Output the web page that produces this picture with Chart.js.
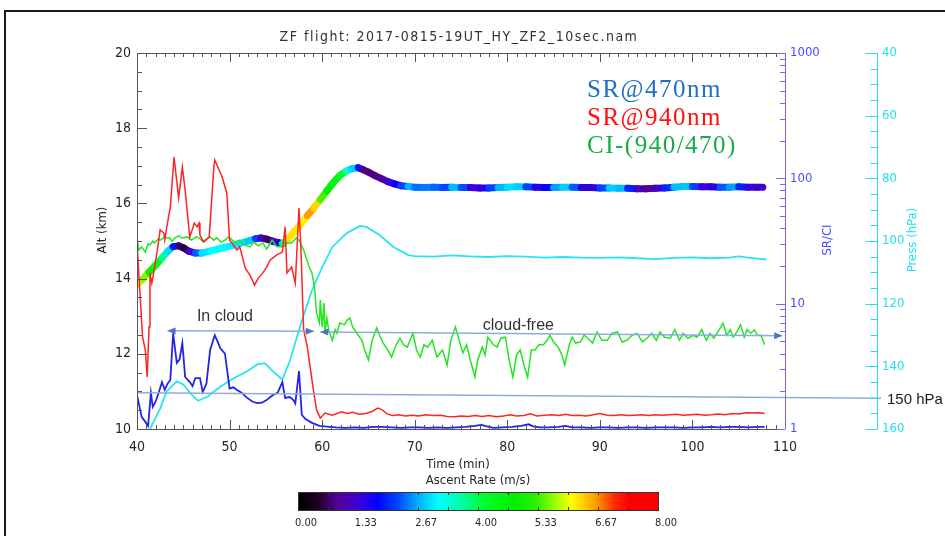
<!DOCTYPE html>
<html>
<head>
<meta charset="utf-8">
<script src="https://cdn.jsdelivr.net/npm/chart.js@4.4.0/dist/chart.umd.min.js"></script>
<style>
  html, body { margin: 0; padding: 0; background: #fff; }
  canvas { display: block; }
</style>
</head>
<body>
<canvas id="flight" width="945" height="536"></canvas>
<script>
// ---- flight record: altitude (km) and ascent rate (m/s) against time (min) ----
const altTime = [40.0, 40.6, 41.3, 42.0, 42.7, 43.3, 43.9, 44.5, 45.0, 45.6, 46.3, 47.0, 48.0, 49.0, 50.0,
  51.0, 52.0, 52.8, 53.4, 54.0, 54.6, 55.2, 55.7, 56.3, 57.0, 57.7, 58.4, 59.1, 59.8, 60.5, 61.2, 61.9,
  62.6, 63.2, 63.9, 64.4, 65.0, 65.7, 66.4, 67.1, 67.8, 68.5, 69.3,
  70, 71, 72, 73, 74, 75, 76, 77, 78, 79, 80, 81, 82, 83, 84, 85, 86, 87, 88, 89,
  90, 91, 92, 93, 94, 95, 96, 97, 98, 99, 100, 101, 102, 103, 104, 105, 106, 107, 107.6];
const altKm = [13.83, 13.98, 14.17, 14.35, 14.55, 14.72, 14.85, 14.87, 14.82, 14.73, 14.68, 14.68, 14.74, 14.80, 14.86,
  14.93, 15.00, 15.06, 15.08, 15.05, 15.00, 14.96, 14.93, 15.05, 15.25, 15.45, 15.67, 15.88, 16.10, 16.33, 16.55, 16.74,
  16.86, 16.92, 16.95, 16.90, 16.83, 16.74, 16.66, 16.58, 16.52, 16.47, 16.45,
  16.43, 16.42, 16.43, 16.42, 16.43, 16.42, 16.42, 16.41, 16.41, 16.42, 16.43, 16.44, 16.44, 16.43, 16.42, 16.42, 16.43, 16.43, 16.42, 16.42,
  16.41, 16.41, 16.40, 16.40, 16.39, 16.39, 16.40, 16.41, 16.43, 16.45, 16.45, 16.44, 16.44, 16.43, 16.43, 16.44, 16.43, 16.43, 16.43];
const ascentRate = [6.6, 5.9, 5.3, 4.6, 4.1, 3.2, 2.6, 1.2, 0.2, 0.8, 1.8, 2.8, 3.1, 3.2, 3.1,
  3.0, 2.9, 2.7, 1.6, 0.5, 0.9, 1.4, 1.8, 6.0, 6.5, 5.9, 6.4, 6.8, 5.8, 5.0, 4.5, 4.6,
  3.8, 3.0, 2.7, 1.1, 0.6, 1.0, 0.7, 1.2, 1.5, 1.8, 2.6,
  2.8, 2.0, 2.9, 1.8, 2.6, 2.9, 1.6, 1.1, 1.8, 2.5, 2.9, 3.0, 2.7, 1.7, 1.3, 2.3, 2.9, 2.8, 1.8, 1.1,
  1.7, 2.7, 3.0, 2.5, 1.5, 0.8, 1.0, 1.4, 2.6, 2.9, 2.7, 1.6, 1.2, 1.8, 2.8, 2.4, 1.6, 1.1, 1.5];

// ---- scattering ratio at 470 nm ----
const sr470Time = [40.0, 40.5, 40.9, 41.2, 41.5, 41.7, 42.0, 42.3, 42.7, 43.0, 43.3, 43.6, 43.9, 44.3,
  44.6, 44.9, 45.2, 45.7, 46.0, 46.3, 46.8, 47.1, 47.5, 47.9, 48.4, 48.7, 49.0, 49.5, 50.0, 50.4, 50.8,
  51.3, 51.9, 52.5, 53.0, 53.5, 54.0, 54.4, 54.7, 55.2, 55.7, 56.0, 56.5, 56.9, 57.1, 57.5, 57.8, 58.2,
  58.9, 59.7, 60.8, 61.5, 62.5, 63.5, 64.5, 65.5, 66.5, 67.5, 68.5, 69.5, 70.5, 71.5, 72.5, 73.5, 74.5,
  75.5, 76.5, 77.2, 77.8, 78.5, 79.5, 80.5, 81.5, 82.3, 82.8, 83.5, 84.5, 85.5, 86.3, 87, 88, 89, 90,
  91, 92, 93, 94, 95, 96, 97, 98, 99, 100, 101, 102, 103, 104, 105, 106, 107, 107.8];
const sr470 = [1.87, 1.25, 1.14, 1.06, 1.94, 1.5, 1.65, 1.9, 2.37, 2.05, 2.3, 2.46, 5.8, 3.37,
  3.6, 4.85, 2.6, 2.37, 2.2, 2.55, 2.55, 1.97, 2.3, 4.27, 5.6, 5.0, 4.4, 4.0, 2.1, 2.15, 2.05,
  1.95, 1.77, 1.65, 1.61, 1.62, 1.7, 1.8, 1.87, 1.95, 2.37, 1.77, 1.8, 1.7, 1.6, 2.9, 1.3, 1.2,
  1.12, 1.06, 1.04, 1.03, 1.02, 1.03, 1.02, 1.04, 1.04, 1.03, 1.02, 1.03, 1.03, 1.02, 1.03, 1.02, 1.03,
  1.04, 1.06, 1.08, 1.05, 1.02, 1.03, 1.04, 1.06, 1.09, 1.05, 1.03, 1.03, 1.04, 1.06, 1.03, 1.03, 1.02, 1.03,
  1.03, 1.02, 1.03, 1.03, 1.02, 1.03, 1.03, 1.03, 1.02, 1.03, 1.03, 1.04, 1.03, 1.04, 1.04, 1.03, 1.04, 1.04];

// ---- scattering ratio at 940 nm ----
const sr940Time = [40.0, 40.3, 40.6, 40.9, 41.1, 41.3, 41.4, 41.6, 41.8, 42.2, 42.5, 42.9, 43.0, 43.2,
  43.6, 44.0, 44.5, 44.9, 45.2, 45.7, 46.2, 46.5, 46.7, 46.8, 47.2, 47.8, 48.3, 48.4, 49.2, 49.7, 50.0,
  50.8, 51.1, 51.7, 52.2, 52.7, 53.1, 53.6, 54.0, 54.4, 55.1, 55.7, 56.0, 56.2, 56.7, 57.1, 57.5, 57.7,
  58.0, 58.4, 58.7, 59.1, 59.4, 59.8, 60.3, 61.1, 62.1, 62.7, 63.3, 64.0, 64.7, 65.4, 66.0, 66.5, 67.0,
  67.6, 68.3, 69.0, 69.7, 70.4, 71.2, 72.0, 72.8, 73.5, 74.3, 75.0, 75.8, 76.5, 77.3, 78.0, 78.8, 79.6,
  80.3, 81.0, 81.8, 82.5, 83.2, 84.0, 84.8, 85.6, 86.3, 87.0, 87.8, 88.5, 89.3, 90.0, 90.8, 91.5, 92.3,
  93.0, 93.8, 94.5, 95.3, 96.0, 96.8, 97.5, 98.3, 99.0, 99.8, 100.5, 101.3, 102.0, 102.8, 103.5, 104.3,
  105.0, 105.8, 106.5, 107.2, 107.8];
const sr940 = [30, 12.9, 5.4, 4.27, 2.6, 6.5, 17.6, 14.6, 17.6, 26.8, 38.7, 36.6, 32.2, 40.2,
  59, 148, 69.8, 123, 80.7, 34, 44, 41, 44, 35.3, 31, 34, 123, 140, 102.6, 76.4, 32.2,
  26.8, 28.4, 19.2, 16.9, 14.1, 16, 17.6, 19.6, 22.3, 24.5, 25.8, 41, 17.6, 19.6, 14.6, 58, 28.4,
  6.2, 4.5, 3.13, 1.94, 1.42, 1.22, 1.34, 1.29, 1.37, 1.33, 1.36, 1.31, 1.33, 1.38, 1.47, 1.42, 1.32,
  1.28, 1.30, 1.27, 1.29, 1.27, 1.30, 1.28, 1.29, 1.26, 1.25, 1.27, 1.26, 1.28, 1.26, 1.28, 1.25, 1.27,
  1.30, 1.27, 1.28, 1.32, 1.27, 1.29, 1.30, 1.28, 1.31, 1.28, 1.29, 1.27, 1.30, 1.33, 1.29, 1.28, 1.30,
  1.28, 1.29, 1.30, 1.28, 1.30, 1.29, 1.30, 1.31, 1.29, 1.30, 1.31, 1.29, 1.30, 1.32, 1.30, 1.33,
  1.32, 1.35, 1.34, 1.35, 1.33];

// ---- colour index CI (940/470) ----
const ciTime = [40.0, 40.2, 40.5, 40.9, 41.2, 41.4, 41.7, 41.9, 42.3, 42.5, 42.9, 43.5, 43.8, 44.1, 44.5,
  44.9, 45.4, 45.9, 46.4, 46.7, 47.1, 47.3, 47.9, 48.3, 48.6, 49.1, 49.5, 49.9, 50.3, 50.7, 51.1, 51.6,
  52.2, 52.6, 53.1, 53.6, 54.0, 54.6, 55.1, 55.7, 56.2, 56.7, 57.2, 57.5, 58.0, 58.6, 58.9, 59.1, 59.2,
  59.4, 59.7, 59.8, 60.0, 60.2, 60.3, 60.5, 60.7, 61.1, 61.4, 61.6, 61.9, 62.4, 62.7, 63.0, 63.3, 63.5,
  63.9, 64.3, 64.6, 65.0, 65.4, 65.9, 66.2, 66.6, 67.1, 67.5, 68.0, 68.4, 68.8, 69.2, 69.5, 69.8, 70.2,
  70.6, 71.0, 71.4, 71.9, 72.4, 73.0, 73.5, 73.9, 74.4, 74.8, 75.2, 75.6, 76.0, 76.5, 76.8, 77.3, 77.6,
  77.9, 78.5, 78.9, 79.3, 79.8, 80.2, 80.6, 81.0, 81.4, 81.8, 82.2, 82.6, 83.0, 83.4, 83.9, 84.3, 84.6,
  85.0, 85.5, 85.9, 86.2, 86.7, 87.0, 87.4, 87.9, 88.3, 88.7, 89.2, 89.7, 90.2, 90.8, 91.3, 91.9, 92.4,
  92.9, 93.5, 94.0, 94.6, 95.1, 95.6, 96.1, 96.5, 97.0, 97.6, 98.1, 98.6, 99.0, 99.5, 100.1, 100.5,
  101.0, 101.5, 101.9, 102.3, 102.9, 103.3, 103.7, 104.1, 104.4, 104.8, 105.2, 105.6, 105.9, 106.3,
  106.7, 107.0, 107.4, 107.8];
const ci = [34.1, 26.8, 28.4, 25.8, 30, 29.4, 31.5, 30.5, 33, 32.1, 33.5, 33.5, 31.5, 33.5, 34.7,
  33.5, 34.1, 32.1, 34.1, 33.5, 31.5, 32.1, 34.1, 32.1, 33.5, 31, 32.1, 34.1, 32.1, 30.5, 32.1, 29.4,
  28.4, 31, 28.9, 30.5, 27.3, 32.1, 28.4, 28.4, 30.5, 30.5, 33.5, 32.1, 26.8, 19.6, 17.6, 14.6, 12.9,
  8.4, 7.0, 10.7, 6.5, 10.1, 5.8, 7.7, 6.2, 5.1, 6.2, 5.8, 7.0, 6.8, 7.4, 7.7, 6.5, 6.2,
  5.6, 5.1, 4.27, 3.55, 5.1, 6.4, 5.6, 4.85, 4.27, 3.75, 4.7, 5.3, 4.7, 4.5, 5.1, 5.8, 4.27,
  3.75, 4.7, 4.5, 5.1, 3.75, 4.27, 3.24, 5.1, 6.5, 5.1, 4.05, 4.7, 3.55, 2.6, 3.55, 4.5, 3.9,
  5.4, 4.7, 4.5, 5.3, 5.4, 3.55, 2.6, 3.9, 4.27, 3.24, 2.6, 4.27, 4.27, 4.7, 4.7, 5.1, 5.6,
  4.95, 4.5, 3.9, 3.24, 4.7, 5.4, 4.85, 4.95, 5.6, 5.3, 4.85, 5.95, 5.1, 5.1, 5.8, 5.95, 4.95,
  5.1, 5.6, 5.8, 4.95, 5.3, 5.8, 5.1, 5.95, 5.4, 5.3, 6.2, 5.1, 5.8, 5.3, 5.6, 5.4,
  6.2, 5.1, 5.8, 5.3, 6.2, 7.0, 5.6, 6.2, 5.4, 5.95, 6.8, 5.4, 6.2, 5.8,
  6.2, 5.6, 5.6, 4.7];

// ---- pressure (hPa) ----
const pressTime = [41.4, 42.5, 43.2, 44.3, 45.0, 45.9, 46.6, 47.6, 49.0, 50.4, 51.9, 53.0, 53.8, 54.7,
  55.7, 56.5, 57.8, 58.9, 60.0, 61.1, 62.7, 64.1, 64.8, 66.2, 67.7, 69.3, 70, 72, 74, 76, 78, 80, 82,
  84, 86, 88, 90, 92, 94, 96, 98, 100, 102, 104, 105, 106, 107, 108];
const pressHPa = [160, 153.5, 148, 144.8, 145.8, 149, 151, 149.7, 146.5, 143.9, 141.6, 139.4, 139, 141.6,
  144.2, 138.4, 125.5, 115.8, 108.4, 101.9, 97.4, 95.2, 95.5, 98.1, 101.9, 104.5, 104.8, 105, 104.6, 104.9, 105.1, 104.8, 105,
  105.3, 105.1, 105.3, 105.4, 105.2, 105.5, 105.8, 105.4, 105.2, 105.5, 105.3, 104.9, 105.3, 105.6, 105.9];

// ---- axis ticks and annotations ----
const srTicks = [1, 10, 100, 1000];
const rateTickLabels = ['0.00', '1.33', '2.67', '4.00', '5.33', '6.67', '8.00'];
const rateMax = 8;
const legendItems = [['SR@470nm', '#1f6fc5'], ['SR@940nm', '#ff1010'], ['CI-(940/470)', '#1aaa4a']];
const cloudSpans = [
  { label: 'In cloud', from: 43.3, to: 59.1, altFrom: 12.61, altTo: 12.60, labelAt: 49.5, labelAlt: 12.86 },
  { label: 'cloud-free', from: 59.8, to: 109.7, altFrom: 12.58, altTo: 12.48, labelAt: 81.2, labelAlt: 12.63 }
];
const refPressure = { label: '150 hPa', start: 148.4, end: 150.2 };

const pts = (xs, ys) => xs.map((x, i) => ({ x, y: ys[i] }));

// rainbow colour table for ascent rate
const rateStops = [
  [0.00, 0, 0, 0], [0.05, 25, 0, 30], [0.11, 85, 0, 150], [0.17, 60, 0, 220], [0.22, 0, 0, 255],
  [0.28, 0, 75, 255], [0.33, 0, 170, 255], [0.39, 0, 255, 255], [0.45, 0, 255, 170], [0.52, 0, 255, 40],
  [0.60, 0, 240, 0], [0.66, 40, 240, 0], [0.72, 170, 255, 0], [0.76, 255, 255, 0], [0.83, 255, 150, 0],
  [0.88, 255, 40, 0], [0.92, 255, 0, 0], [1.00, 255, 0, 0]
];
function rateColor(v) {
  const t = Math.max(0, Math.min(1, v / rateMax));
  for (let i = 1; i < rateStops.length; i++) {
    const b = rateStops[i];
    if (t <= b[0]) {
      const a = rateStops[i - 1];
      const f = (t - a[0]) / (b[0] - a[0] || 1);
      const c = [1, 2, 3].map(k => Math.round(a[k] + (b[k] - a[k]) * f));
      return `rgb(${c[0]},${c[1]},${c[2]})`;
    }
  }
  return 'rgb(255,0,0)';
}

const AXIS_FONT = "'DejaVu Sans Condensed', 'DejaVu Sans', sans-serif";
const INK = '#262626';
const SR_BLUE = '#4a4aff';
const P_CYAN = '#22e0ee';

function arrowHead(ctx, x, y, dir, angle) {
  ctx.save();
  ctx.translate(x, y);
  ctx.rotate(angle);
  ctx.beginPath();
  ctx.moveTo(0, 0);
  ctx.lineTo(-dir * 8, -3.5);
  ctx.lineTo(-dir * 8, 3.5);
  ctx.closePath();
  ctx.fill();
  ctx.restore();
}

const decor = {
  id: 'decor',
  afterDatasetsDraw(chart) {
    const { ctx, chartArea: a, scales: { x, yAlt, yP } } = chart;
    ctx.save();
    // 150 hPa reference line
    ctx.strokeStyle = '#8eaadb';
    ctx.lineWidth = 1.5;
    ctx.beginPath();
    ctx.moveTo(a.left, yP.getPixelForValue(refPressure.start));
    ctx.lineTo(yP.left + 4, yP.getPixelForValue(refPressure.end));
    ctx.stroke();
    ctx.fillStyle = '#1a1a1a';
    ctx.font = "15px 'Liberation Sans', Arial, sans-serif";
    ctx.textAlign = 'left';
    ctx.textBaseline = 'alphabetic';
    ctx.fillText(refPressure.label, yP.left + 10, yP.getPixelForValue(refPressure.end) + 6);

    // cloud / cloud-free spans
    cloudSpans.forEach(s => {
      const x1 = x.getPixelForValue(s.from), x2 = x.getPixelForValue(s.to);
      const y1 = yAlt.getPixelForValue(s.altFrom), y2 = yAlt.getPixelForValue(s.altTo);
      const ang = Math.atan2(y2 - y1, x2 - x1);
      ctx.strokeStyle = '#8eaadb';
      ctx.lineWidth = 1.5;
      ctx.beginPath();
      ctx.moveTo(x1, y1);
      ctx.lineTo(x2, y2);
      ctx.stroke();
      ctx.fillStyle = '#4a72c4';
      arrowHead(ctx, x1, y1, -1, ang);
      arrowHead(ctx, x2, y2, 1, ang);
      ctx.fillStyle = '#333';
      ctx.font = "16px 'Liberation Sans', Arial, sans-serif";
      ctx.textAlign = 'center';
      ctx.fillText(s.label, x.getPixelForValue(s.labelAt), yAlt.getPixelForValue(s.labelAlt));
    });
    ctx.restore();
  },
  afterDraw(chart) {
    const { ctx, chartArea: a, scales: { x, yAlt, ySR, yP } } = chart;
    ctx.save();
    ctx.lineCap = 'butt';

    // frame axes
    ctx.strokeStyle = '#555';
    ctx.lineWidth = 1;
    ctx.beginPath();
    ctx.moveTo(a.left + 0.5, a.top); ctx.lineTo(a.left + 0.5, a.bottom);
    ctx.moveTo(a.left, a.top + 0.5); ctx.lineTo(a.right, a.top + 0.5);
    ctx.moveTo(a.left, a.bottom + 0.5); ctx.lineTo(a.right, a.bottom + 0.5);
    ctx.stroke();

    // time ticks, bottom and top, pointing inward
    ctx.beginPath();
    for (let t = 40; t <= 110; t += 1) {
      const px = Math.round(x.getPixelForValue(t)) + 0.5;
      const len = t % 10 === 0 ? 9 : 4;
      ctx.moveTo(px, a.bottom); ctx.lineTo(px, a.bottom - len);
      ctx.moveTo(px, a.top); ctx.lineTo(px, a.top + len);
    }
    // altitude ticks
    for (let h = 10; h <= 20.001; h += 0.5) {
      const py = Math.round(yAlt.getPixelForValue(h)) + 0.5;
      const len = Math.abs(h % 2) < 1e-6 ? 10 : 5;
      ctx.moveTo(a.left, py); ctx.lineTo(a.left + len, py);
    }
    ctx.stroke();

    // SR/CI log axis
    ctx.strokeStyle = '#6a6aff';
    ctx.beginPath();
    ctx.moveTo(a.right + 0.5, a.top); ctx.lineTo(a.right + 0.5, a.bottom);
    for (let d = 1; d <= 100; d *= 10) {
      for (let m = 1; m <= 10; m++) {
        const v = d * m;
        const py = Math.round(ySR.getPixelForValue(v)) + 0.5;
        const len = (m === 1 || m === 10) ? 9 : 5;
        ctx.moveTo(a.right, py); ctx.lineTo(a.right - len, py);
      }
    }
    ctx.stroke();

    // pressure axis
    ctx.strokeStyle = P_CYAN;
    const px0 = Math.round(yP.left) + 0.5;
    ctx.beginPath();
    ctx.moveTo(px0, yP.getPixelForValue(40)); ctx.lineTo(px0, yP.getPixelForValue(160));
    for (let p = 40; p <= 160; p += 5) {
      const py = Math.round(yP.getPixelForValue(p)) + 0.5;
      const len = p % 20 === 0 ? 12 : 7;
      ctx.moveTo(px0, py); ctx.lineTo(px0 - len, py);
    }
    ctx.stroke();

    // axis titles
    ctx.font = `13px ${AXIS_FONT}`;
    ctx.textBaseline = 'middle';
    ctx.textAlign = 'center';
    ctx.fillStyle = INK;
    ctx.fillText('Time (min)', (a.left + a.right) / 2 - 3, a.bottom + 36);
    ctx.fillText('Ascent Rate (m/s)', 478, a.bottom + 52);
    const vtitle = (txt, cx, cy, col) => {
      ctx.save(); ctx.translate(cx, cy); ctx.rotate(-Math.PI / 2);
      ctx.fillStyle = col; ctx.fillText(txt, 0, 0); ctx.restore();
    };
    vtitle('Alt (km)', a.left - 34, 230, INK);
    vtitle('SR/CI', a.right + 43, 240, SR_BLUE);
    vtitle('Press (hPa)', yP.left + 36, 240, P_CYAN);

    // chart title
    ctx.font = `14px ${AXIS_FONT}`;
    ctx.fillStyle = '#333';
    if ('letterSpacing' in ctx) ctx.letterSpacing = '1.5px';
    ctx.fillText('ZF flight: 2017-0815-19UT_HY_ZF2_10sec.nam', (a.left + a.right) / 2 - 2, 37);

    // series legend
    ctx.font = "25px 'Liberation Serif', 'Times New Roman', serif";
    ctx.textAlign = 'left';
    ctx.textBaseline = 'alphabetic';
    legendItems.forEach(([txt, col], i) => {
      ctx.fillStyle = col;
      ctx.fillText(txt, 587, 97 + i * 28);
    });
    if ('letterSpacing' in ctx) ctx.letterSpacing = '0px';

    // ascent-rate colour bar
    const bx0 = 298, bx1 = 658, by0 = 492, by1 = 510;
    for (let px = bx0; px < bx1; px++) {
      ctx.fillStyle = rateColor((px - bx0 + 0.5) / (bx1 - bx0) * rateMax);
      ctx.fillRect(px, by0, 1, by1 - by0);
    }
    ctx.strokeStyle = '#333';
    ctx.lineWidth = 1;
    ctx.strokeRect(bx0 + 0.5, by0 + 0.5, bx1 - bx0, by1 - by0);
    ctx.beginPath();
    for (let k = 1; k < 12; k++) {
      const tx = Math.round(bx0 + k * (bx1 - bx0) / 12) + 0.5;
      ctx.moveTo(tx, by0); ctx.lineTo(tx, by0 + 3);
      ctx.moveTo(tx, by1); ctx.lineTo(tx, by1 - 3);
    }
    ctx.stroke();
    ctx.font = `11px ${AXIS_FONT}`;
    ctx.fillStyle = INK;
    ctx.textAlign = 'center';
    ctx.textBaseline = 'middle';
    rateTickLabels.forEach(lab => {
      const v = parseFloat(lab);
      ctx.fillText(lab, bx0 + (v / rateMax) * (bx1 - bx0) + 8, 523);
    });

    // page frame
    ctx.strokeStyle = '#1a1a1a';
    ctx.lineWidth = 2;
    ctx.strokeRect(5, 11, 1000, 600);
    ctx.restore();
  }
};

const tickFont = { family: AXIS_FONT, size: 14 };

new Chart(document.getElementById('flight'), {
  type: 'line',
  data: {
    datasets: [
      {
        label: 'Alt', yAxisID: 'yAlt', data: pts(altTime, altKm), order: 5,
        borderWidth: 7, borderCapStyle: 'round', borderJoinStyle: 'round',
        segment: { borderColor: c => rateColor((ascentRate[c.p0DataIndex] + ascentRate[c.p1DataIndex]) / 2) }
      },
      { label: 'Press', yAxisID: 'yP', data: pts(pressTime, pressHPa), order: 4, borderColor: '#28e4f2', borderWidth: 1.8 },
      { label: 'CI-(940/470)', yAxisID: 'ySR', data: pts(ciTime, ci), order: 3, borderColor: '#22e622', borderWidth: 1.5 },
      { label: 'SR@470nm', yAxisID: 'ySR', data: pts(sr470Time, sr470), order: 2, borderColor: '#2424e6', borderWidth: 1.8 },
      { label: 'SR@940nm', yAxisID: 'ySR', data: pts(sr940Time, sr940), order: 1, borderColor: '#ff2424', borderWidth: 1.5 }
    ]
  },
  options: {
    responsive: false,
    animation: false,
    devicePixelRatio: 1,
    layout: { padding: { left: 87, top: 53, right: 8, bottom: 62 } },
    elements: { point: { radius: 0 }, line: { tension: 0 } },
    plugins: { legend: { display: false }, tooltip: { enabled: false }, title: { display: false } },
    scales: {
      x: {
        type: 'linear', position: 'bottom', min: 40, max: 110,
        ticks: { stepSize: 10, color: INK, font: tickFont, padding: 10, maxRotation: 0 },
        grid: { display: false, drawTicks: false }, border: { display: false },
        afterFit: s => { s.height = 45; }
      },
      yAlt: {
        type: 'linear', position: 'left', min: 10, max: 20,
        ticks: { stepSize: 2, color: INK, font: tickFont, padding: 6 },
        grid: { display: false, drawTicks: false }, border: { display: false },
        afterFit: s => { s.width = 50; }
      },
      ySR: {
        type: 'logarithmic', position: 'right', min: 1, max: 1000,
        afterBuildTicks: s => { s.ticks = srTicks.map(v => ({ value: v })); },
        ticks: { color: SR_BLUE, font: { family: AXIS_FONT, size: 13 }, padding: 5, autoSkip: false, callback: v => String(v) },
        grid: { display: false, drawTicks: false }, border: { display: false },
        afterFit: s => { s.width = 92; }
      },
      yP: {
        type: 'linear', position: 'right', min: 40, max: 160, reverse: true,
        ticks: { stepSize: 20, color: P_CYAN, font: { family: AXIS_FONT, size: 13 }, padding: 5 },
        grid: { display: false, drawTicks: false }, border: { display: false },
        afterFit: s => { s.width = 60; }
      }
    }
  },
  plugins: [decor]
});
</script>
</body>
</html>
